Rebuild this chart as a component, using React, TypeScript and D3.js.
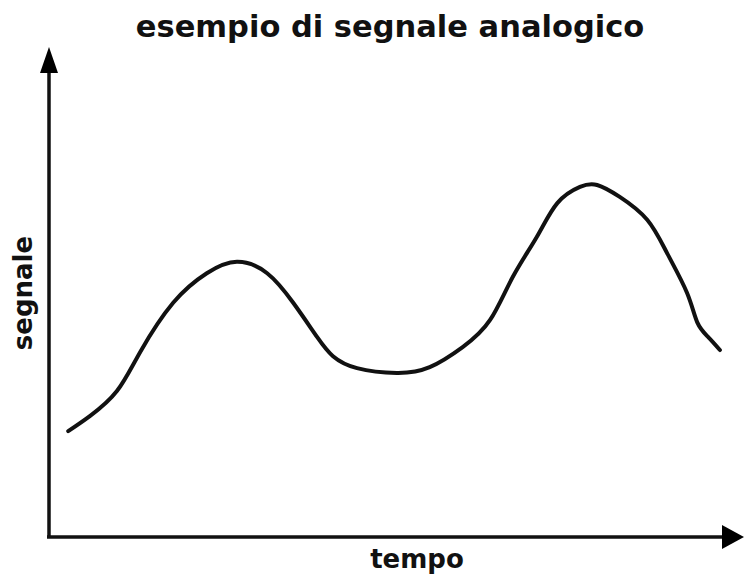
import React, { useEffect, useRef } from 'react';
import * as d3 from 'd3';

// signal (time and value both on 0..100)
const tempo = [2.8, 6.0, 9.9, 13.3, 18.1, 23.0, 27.4, 31.8, 35.6, 39.1, 41.4, 44.9, 50.7, 55.5, 60.3, 64.3, 67.6, 71.1, 74.1, 77.4, 79.9, 83.2, 87.2, 90.1, 93.0, 94.5, 96.1, 97.8];
const segnale = [22.2, 25.4, 30.6, 38.8, 49.1, 55.3, 57.7, 55.3, 49.1, 41.9, 37.9, 35.4, 34.4, 35.6, 39.8, 45.5, 54.5, 62.9, 70.0, 73.4, 73.8, 71.3, 66.5, 59.5, 51.2, 45.0, 41.9, 39.2];

const title = "esempio di segnale analogico";
const x_label = "tempo";
const y_label = "segnale";

const width = 744;
const height = 575;
const margin = { top: 60, right: 9, bottom: 38, left: 49 };

export default function App() {
    const svgRef = useRef<SVGSVGElement | null>(null);

    useEffect(() => {
        if (!svgRef.current) return;
        const svg = d3.select(svgRef.current);
        svg.selectAll("*").remove();

        const xScale = d3.scaleLinear().domain([0, 100]).range([margin.left, width - margin.right]);
        const yScale = d3.scaleLinear().domain([0, 100]).range([height - margin.bottom, margin.top]);

        const data = tempo.map((t, i) => ({ t, v: segnale[i] }));

        // axes with arrow heads
        const x0 = xScale(0), y0 = yScale(0);
        svg.append("path")
            .attr("d", `M${x0},${y0} L${x0},${margin.top + 12}`)
            .attr("stroke", "#111").attr("stroke-width", 3.5).attr("fill", "none");
        svg.append("path")
            .attr("d", `M${x0 - 2},${y0} L${width - 20},${y0}`)
            .attr("stroke", "#111").attr("stroke-width", 3.5).attr("fill", "none");
        svg.append("path")
            .attr("d", `M${x0},${margin.top - 13} L${x0 - 9},${margin.top + 13} L${x0 + 9},${margin.top + 13} Z`)
            .attr("fill", "#000");
        svg.append("path")
            .attr("d", `M${width},${y0} L${width - 22},${y0 - 12} L${width - 22},${y0 + 12} Z`)
            .attr("fill", "#000");

        const line = d3.line<{ t: number; v: number }>()
            .x(d => xScale(d.t))
            .y(d => yScale(d.v))
            .curve(d3.curveNatural);

        svg.append("path")
            .datum(data)
            .attr("d", line)
            .attr("fill", "none")
            .attr("stroke", "#111")
            .attr("stroke-width", 4)
            .attr("stroke-linecap", "round");

        const font = "'DejaVu Sans', Verdana, sans-serif";

        svg.append("text")
            .attr("x", 390).attr("y", 37)
            .attr("text-anchor", "middle")
            .style("font-family", font).style("font-weight", "bold").style("font-size", "30.5px")
            .attr("fill", "#111")
            .text(title);

        svg.append("text")
            .attr("x", 417).attr("y", 568)
            .attr("text-anchor", "middle")
            .style("font-family", font).style("font-weight", "bold").style("font-size", "26px")
            .attr("fill", "#111")
            .text(x_label);

        svg.append("text")
            .attr("transform", "translate(32, 293) rotate(-90)")
            .attr("text-anchor", "middle")
            .style("font-family", font).style("font-weight", "bold").style("font-size", "26px")
            .attr("fill", "#111")
            .text(y_label);
    }, []);

    return (
        <div style={{ position: "absolute", left: 0, top: 0 }}>
            <svg ref={svgRef} width={width} height={height} style={{ display: "block", background: "#fff" }}></svg>
        </div>
    );
}
